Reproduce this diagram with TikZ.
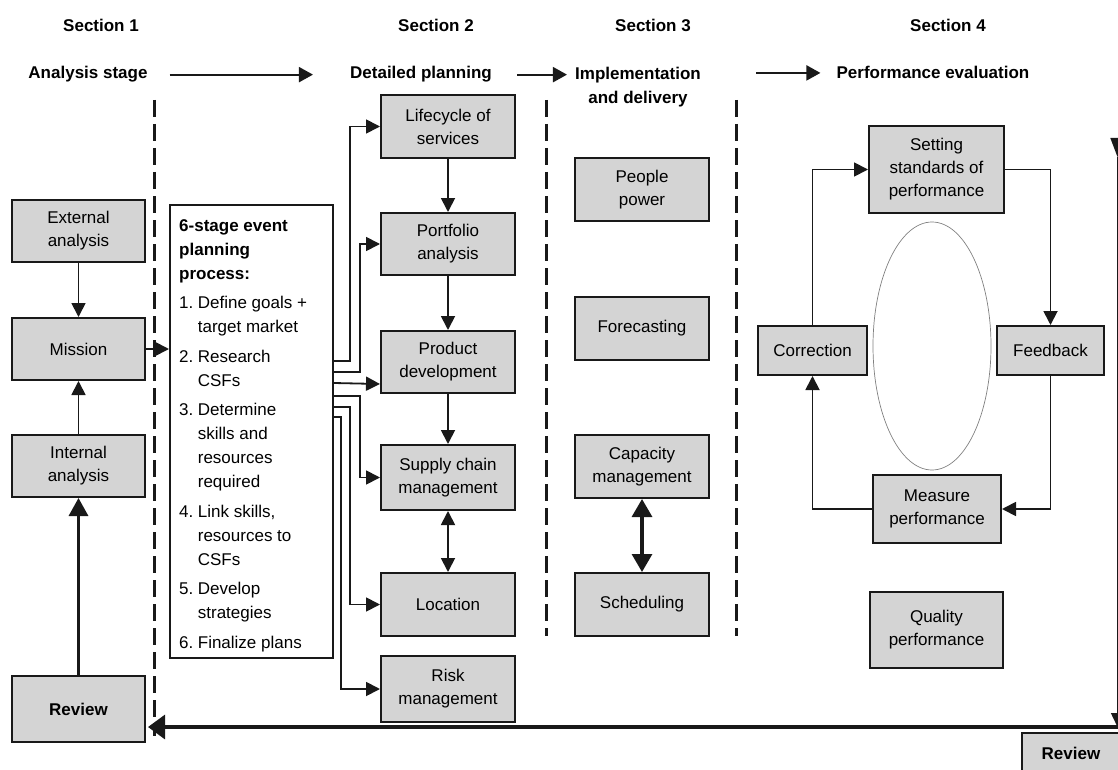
\documentclass[tikz,border=0pt]{standalone}
\usepackage{fontspec}
\setmainfont{Liberation Sans}
\usetikzlibrary{arrows.meta,shapes.geometric}
\definecolor{boxgray}{RGB}{212,212,212}
\definecolor{inkline}{RGB}{25,25,25}
\begin{document}
\begin{tikzpicture}[x=1pt,y=-1pt,
  font=\fontsize{17}{23}\selectfont,
  box/.style n args={2}{draw=inkline, line width=2pt, fill=boxgray,
    minimum width=#1, minimum height=#2, inner sep=0pt, align=center},
  head/.style={font=\fontsize{17}{24}\selectfont\bfseries, inner sep=0pt, align=center},
  conn/.style={draw=inkline, line width=1.8pt, -{Triangle[length=14pt,width=14pt]}},
  harrow/.style={draw=inkline, line width=2pt, -{Triangle[length=14pt,width=15pt]}},
  bigup/.style={draw=inkline, line width=3.2pt, -{Triangle[length=18pt,width=19pt]}},
  bigboth/.style={draw=inkline, line width=3.2pt,
    {Triangle[length=18pt,width=20pt]}-{Triangle[length=18pt,width=20pt]}},
  divider/.style={draw=inkline, line width=3pt, dash pattern=on 17pt off 7pt},
]
\useasboundingbox (0,0) rectangle (1118,770);
\clip (0,0) rectangle (1118,770);

% ---- section headings ----
\node[head] (s1) at (101,25) {Section 1};
\node[head] (s2) at (436,25) {Section 2};
\node[head] (s3) at (653,25) {Section 3};
\node[head] (s4) at (948,25) {Section 4};

\node[head, anchor=base] (hA) at (88,79) {Analysis stage};
\node[head, anchor=base] (hD) at (421,79) {Detailed planning};
\node[head, anchor=north] (hI) at (638,66.5) {Implementation\\and delivery};
\node[head, anchor=base] (hP) at (933,79) {Performance evaluation};

\draw[harrow] ([xshift=22pt]hA.east) -- ([xshift=-37pt]hD.west);
\draw[harrow] ([xshift=25pt]hD.east |- hD.east) -- ([xshift=-8pt]hI.west |- hD.east);
\draw[harrow] ([xshift=55pt]hI.east |- hP.east) -- ([xshift=-16pt]hP.west);

% ---- dashed section dividers ----
\draw[divider] (154,100) -- (154,736);
\draw[divider] (546,100) -- (546,636);
\draw[divider] (736,100) -- (736,636);

% ---- section 1 ----
\node[box={133pt}{62pt}] (ext) at (78.5,231) {External\\analysis};
\node[box={133pt}{62pt}] (mis) at (78.5,349) {Mission};
\node[box={133pt}{62pt}] (int) at (78.5,466) {Internal\\analysis};
\node[box={133pt}{66pt}, font=\fontsize{17}{23}\selectfont\bfseries] (revL) at (78.5,709) {Review};

\draw[conn] (ext.south) -- (mis.north);
\draw[conn] (int.north) -- (mis.south);
\draw[bigup] (revL.north) -- (int.south);

% ---- six-stage planning process ----
\node[draw=inkline, line width=2pt, fill=white, minimum width=163pt,
      minimum height=453pt, inner sep=0pt] (plan) at (251.5,431.5) {};
\node[anchor=base west, inner sep=0pt, font=\fontsize{17}{24}\selectfont] (plantxt) at (179,231) {%
\begin{tabular}[t]{@{}l@{\hspace{4.5pt}}l@{}}
\multicolumn{2}{@{}l@{}}{\bfseries 6-stage event}\\
\multicolumn{2}{@{}l@{}}{\bfseries planning}\\
\multicolumn{2}{@{}l@{}}{\bfseries process:}\\[5.5pt]
1. & Define goals +\\
   & target market\\[5.5pt]
2. & Research\\
   & CSFs\\[5.5pt]
3. & Determine\\
   & skills and\\
   & resources\\
   & required\\[5.5pt]
4. & Link skills,\\
   & resources to\\
   & CSFs\\[5.5pt]
5. & Develop\\
   & strategies\\[5.5pt]
6. & Finalize plans
\end{tabular}};

\draw[conn] (mis.east) -- (mis.east -| plan.west);

% ---- section 2 ----
\node[box={134pt}{63pt}] (lif) at (448,126.5) {Lifecycle of\\services};
\node[box={134pt}{62pt}] (por) at (448,244) {Portfolio\\analysis};
\node[box={134pt}{62pt}] (pro) at (448,362) {Product\\development};
\node[box={134pt}{65pt}] (sup) at (448,477.5) {Supply chain\\management};
\node[box={134pt}{63pt}] (loc) at (448,604.5) {Location};
\node[box={134pt}{66pt}] (risk) at (448,689) {Risk\\management};

\draw[conn] (lif.south) -- (por.north);
\draw[conn] (por.south) -- (pro.north);
\draw[conn] (pro.south) -- (sup.north);
\draw[conn, {Triangle[length=14pt,width=14pt]}-{Triangle[length=14pt,width=14pt]}] (sup.south) -- (loc.north);

\draw[conn] ([yshift=-157pt]plan.north east) -| ([xshift=-30pt]lif.west) -- (lif.west);
\draw[conn] ([yshift=-168pt]plan.north east) -| ([xshift=-20pt]por.west) -- (por.west);
\draw[conn] ([yshift=-179pt]plan.north east) -- ([yshift=-22pt]pro.west);
\draw[conn] ([yshift=-192pt]plan.north east) -| ([xshift=-20pt]sup.west) -- (sup.west);
\draw[conn] ([yshift=-203pt]plan.north east) -| ([xshift=-30pt]loc.west) -- (loc.west);
\draw[conn] ([yshift=-213pt]plan.north east) -| ([xshift=-39pt]risk.west) -- (risk.west);

% ---- section 3 ----
\node[box={134pt}{63pt}] (peo) at (642,189.5) {People\\power};
\node[box={134pt}{63pt}] (fore) at (642,328.5) {Forecasting};
\node[box={134pt}{63pt}] (cap) at (642,466.5) {Capacity\\management};
\node[box={134pt}{63pt}] (sch) at (642,604.5) {Scheduling};
\draw[bigboth] (cap.south) -- (sch.north);

% ---- section 4: performance loop ----
\node[ellipse, draw=gray, line width=0.7pt, minimum width=118pt,
      minimum height=248pt, inner sep=0pt] (ring) at (932,346) {};
\node[box={135pt}{87pt}] (set) at (936.5,169.5) {Setting\\standards of\\performance};
\node[box={109pt}{49pt}] (cor) at (812.5,350.5) {Correction};
\node[box={107pt}{49pt}] (fee) at (1050.5,350.5) {Feedback};
\node[box={128pt}{68pt}] (mea) at (937,509) {Measure\\performance};
\node[box={133pt}{76pt}] (qua) at (936.5,630) {Quality\\performance};

\draw[conn] (cor.north) |- (set.west);
\draw[conn] (set.east) -| (fee.north);
\draw[conn] (fee.south) |- (mea.east);
\draw[conn] (mea.west) -| (cor.south);

% ---- review feedback path ----
\coordinate (rtop) at (1117.5,138);
\coordinate (rmid) at (1117.5,157);
\coordinate (rbot) at (1117.5,727);
\coordinate (redge) at (1119,727);
\draw[draw=inkline, line width=1.6pt, -{Triangle[length=19pt,width=14pt]}] (rtop) -- (rmid);
\draw[draw=inkline, line width=1.6pt, -{Triangle[length=14pt,width=13pt]}] (rmid) -- (rbot);
\draw[draw=inkline, line width=3.2pt, -{Triangle[length=17pt,width=24pt]}] (redge) -- ([xshift=2pt]revL.east |- redge);

\node[box={98pt}{40pt}, font=\fontsize{17}{23}\selectfont\bfseries] (revR) at (1071,753) {Review};
\end{tikzpicture}
\end{document}
